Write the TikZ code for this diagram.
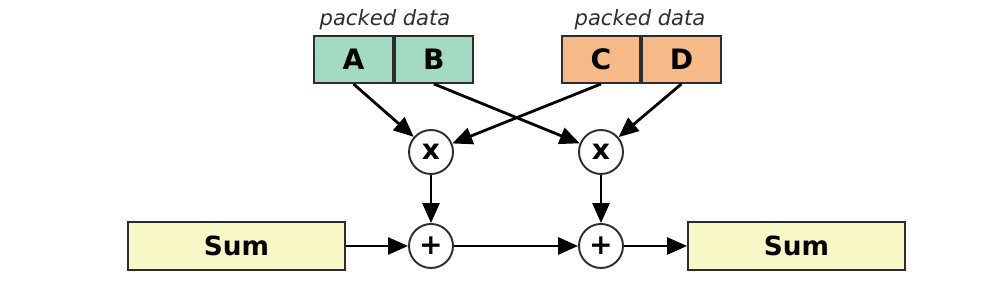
\documentclass[tikz,border=0pt]{standalone}
\usepackage{fontspec}
\setmainfont{DejaVu Sans}
\usetikzlibrary{positioning,arrows.meta}
\definecolor{PackGreen}{RGB}{162,218,194}
\definecolor{PackOrange}{RGB}{246,186,136}
\definecolor{SumYellow}{RGB}{248,247,198}
\definecolor{EdgeGray}{RGB}{45,45,45}

\begin{document}
\begin{tikzpicture}[x=0.02cm, y=-0.02cm,
    cell/.style={draw=EdgeGray, line width=1.1pt, minimum width=1.57cm, minimum height=0.94cm,
                 inner sep=0pt, font=\bfseries\fontsize{16}{18}\selectfont},
    sumbox/.style={draw=EdgeGray, line width=1.1pt, fill=SumYellow, minimum width=4.34cm,
                   minimum height=0.96cm, inner sep=0pt, font=\bfseries\fontsize{15}{17}\selectfont},
    op/.style={draw=EdgeGray, circle, line width=1.1pt, minimum size=0.88cm, inner sep=0pt,
               font=\bfseries\fontsize{16}{18}\selectfont},
    tag/.style={font=\itshape\fontsize{12}{14}\selectfont, text=EdgeGray},
    flow/.style={-{Triangle[length=0.4cm, width=0.34cm]}, line width=1.6pt, black}]
  \useasboundingbox (0,0) rectangle (1008,296);
  % packed operands
  \node[cell, fill=PackGreen] (A) at (353.5,59.5) {A};
  \node[cell, fill=PackGreen, right=0cm of A] (B) {B};
  \node[cell, fill=PackOrange] (C) at (601,59.5) {C};
  \node[cell, fill=PackOrange, right=0cm of C] (D) {D};
  \node[tag] (tagAB) at (385,20) {packed data};
  \node[tag] (tagCD) at (640,20) {packed data};
  % multipliers and adders
  \node[op] (mulL) at (431,152) {x};
  \node[op] (mulR) at (601,152) {x};
  \node[op] (addL) at (431,246) {+};
  \node[op] (addR) at (601,246) {+};
  \node[sumbox] (sumIn) at (236.5,246) {Sum};
  \node[sumbox] (sumOut) at (796.5,246) {Sum};
  % connectors
  \foreach \x/\y in {A/mulL,B/mulR,C/mulL,D/mulR}
    \draw[flow] (\x.south) -- (\y);
  \foreach \x/\y in {mulL/addL,mulR/addR}
    \draw[flow] (\x) -- (\y);
  \foreach \x/\y in {sumIn/addL,addL/addR,addR/sumOut}
    \draw[flow] (\x) -- (\y);
\end{tikzpicture}
\end{document}
